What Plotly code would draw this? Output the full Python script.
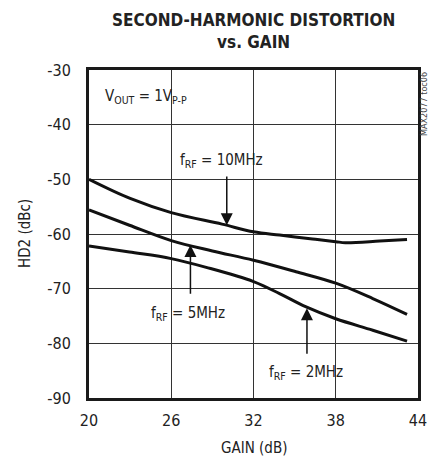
import plotly.graph_objects as go

gain_10 = [20, 23.0, 26, 29.7, 32, 33.9, 36.3, 38, 38.7, 41.2, 43.2]
hd2_10 = [-50.0, -53.5, -56.1, -58.2, -59.6, -60.2, -60.9, -61.4, -61.6, -61.3, -61.0]

gain_5 = [20, 22.95, 26, 29.0, 32, 35.1, 38, 40.7, 43.2]
hd2_5 = [-55.6, -58.4, -61.2, -63.1, -64.8, -66.9, -69.0, -71.8, -74.7]

gain_2 = [20, 22.95, 26, 28.55, 32, 33.9, 35.8, 38, 40.7, 43.2]
hd2_2 = [-62.2, -63.3, -64.5, -66.1, -68.7, -70.9, -73.3, -75.5, -77.6, -79.6]

x_ticks = [20, 26, 32, 38, 44]
y_ticks = [-30, -40, -50, -60, -70, -80, -90]
y_ticktext = ["-30", "-40", "-50", "-60", "-70", "-80", "-90"]

FONT = "DejaVu Sans Condensed, Liberation Sans Narrow, Liberation Sans, sans-serif"
TXT = "#222222"

fig = go.Figure()
for gx, gy in [(gain_10, hd2_10), (gain_5, hd2_5), (gain_2, hd2_2)]:
    fig.add_trace(go.Scatter(x=gx, y=gy, mode="lines",
                             line=dict(color="#111111", width=3, shape="spline", smoothing=1.0),
                             showlegend=False, hoverinfo="skip"))

axis_common = dict(showline=True, mirror=True, linecolor="#1a1a1a", linewidth=3,
                   showgrid=True, gridcolor="#333333", gridwidth=1, zeroline=False,
                   ticks="outside", tickcolor="rgba(0,0,0,0)", automargin=False,
                   tickfont=dict(family=FONT, size=16, color=TXT))

fig.update_xaxes(range=[20, 44], tickvals=x_ticks, ticklen=6, **axis_common)
fig.update_yaxes(range=[-90, -30], tickvals=y_ticks, ticktext=y_ticktext, ticklen=12, **axis_common)

ann = [
    dict(x=21.0, y=-34.9, text="V<sub>OUT</sub> = 1V<sub>P-P</sub>", xanchor="left", showarrow=False),
    dict(x=29.7, y=-46.5, text="f<sub>RF</sub> = 10MHz", showarrow=False),
    dict(x=27.2, y=-74.5, text="f<sub>RF</sub> = 5MHz", showarrow=False),
    dict(x=35.8, y=-85.3, text="f<sub>RF</sub> = 2MHz", showarrow=False),
]
for a in ann:
    a.update(xref="x", yref="y", font=dict(family=FONT, size=15, color=TXT))
    fig.add_annotation(**a)

arrows = [(30.05, -58.4, -49.2), (27.4, -62.0, -71.2), (35.9, -73.6, -82.2)]
for x, tip, tail in arrows:
    fig.add_annotation(x=x, y=tip, ax=x, ay=tail, xref="x", yref="y", axref="x", ayref="y",
                       text="", showarrow=True, arrowhead=2, arrowsize=1.6, arrowwidth=1.5,
                       arrowcolor="#111111")

fig.add_annotation(x=0.5, y=1.0, xref="paper", yref="paper", yshift=16,
                   text="<b>SECOND-HARMONIC DISTORTION<br>vs. GAIN</b>", showarrow=False,
                   font=dict(family=FONT, size=17, color=TXT), yanchor="bottom")
fig.add_annotation(x=0.5, y=0, xref="paper", yref="paper", yshift=-50,
                   text="GAIN (dB)", showarrow=False, yanchor="middle",
                   font=dict(family=FONT, size=15, color=TXT))
fig.add_annotation(x=0, y=0.5, xref="paper", yref="paper", xshift=-64, xanchor="center",
                   text="HD2 (dBc)", showarrow=False, textangle=-90,
                   font=dict(family=FONT, size=15, color=TXT))
fig.add_annotation(x=1, y=1, xref="paper", yref="paper", xshift=6, yanchor="top", xanchor="center",
                   text="MAX2077 toc06", showarrow=False, textangle=-90,
                   font=dict(family=FONT, size=9, color="#444444"))

# the page body has an 8px default margin, so the figure is shrunk to sit in place
fig.update_layout(width=428, height=451, margin=dict(l=81, r=18, t=62, b=61),
                  paper_bgcolor="white", plot_bgcolor="white",
                  font=dict(family=FONT, color=TXT))
fig.write_html("out.html")
